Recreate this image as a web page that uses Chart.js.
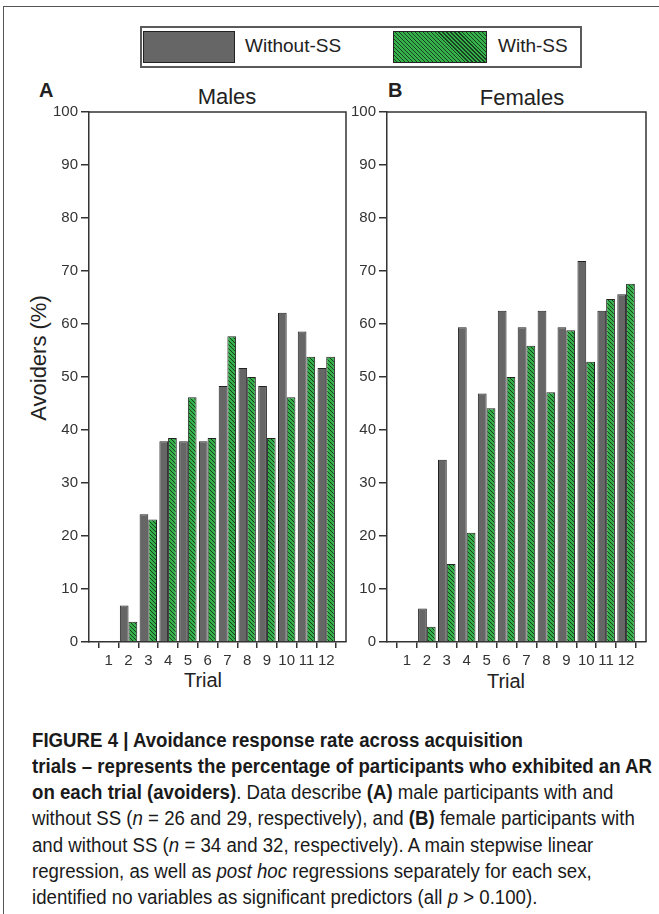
<!DOCTYPE html>
<html>
<head>
<meta charset="utf-8">
<script src="https://cdn.jsdelivr.net/npm/chart.js@4/dist/chart.umd.min.js"></script>
<style>
  html, body { margin: 0; padding: 0; background: #fff; }
  body { width: 659px; height: 914px; position: relative; overflow: hidden;
         font-family: Arial, "Liberation Sans", sans-serif; color: #222; }
  .frame { position: absolute; left: 3px; top: 6px; width: 700px; height: 1000px;
           border-left: 1.5px solid #555; border-top: 1.5px solid #555; }
  .abs { position: absolute; }
  .legend { left: 140px; top: 26px; width: 438px; height: 38px; border: 2px solid #5a5a5a; }
  .sw { position: absolute; top: 31px; height: 30px; border: 1.5px solid #222; }
  .sw.gray { left: 143px; width: 90px; background: #666; }
  .sw.green { left: 393px; width: 92px;
    background: repeating-linear-gradient(45deg, #36b04b 0 1.9px, #17401f 1.9px 2.8px); }
  .lg { position: absolute; top: 34px; font-size: 19px; line-height: 24px; }
  .letter { font-weight: bold; font-size: 20px; line-height: 20px; }
  .title { font-size: 22px; line-height: 24px; transform: translateX(-50%); white-space: nowrap; }
  .ylab { font-size: 22px; line-height: 24px; white-space: nowrap;
          transform: translate(-50%, -50%) rotate(-90deg); }
  .xlab { font-size: 20px; line-height: 22px; transform: translateX(-50%); }
  .cl { position: absolute; left: 32px; font-family: "Liberation Sans", Arial, sans-serif;
        font-size: 19.5px; line-height: 24px; color: #1a1a1a; white-space: pre;
        transform-origin: 0 0; }
  canvas { position: absolute; }
</style>
</head>
<body>
<div class="frame"></div>

<div class="abs legend"></div>
<div class="sw gray"></div>
<div class="lg" style="left:245px">Without-SS</div>
<div class="sw green"></div>
<div class="lg" style="left:498px">With-SS</div>

<div class="abs letter" style="left:39px; top:80px">A</div>
<div class="abs letter" style="left:388px; top:80px">B</div>
<div class="abs title" style="left:227px; top:85px">Males</div>
<div class="abs title" style="left:522px; top:86px">Females</div>
<div class="abs ylab" style="left:39px; top:358px">Avoiders (%)</div>
<div class="abs xlab" style="left:203px; top:669px">Trial</div>
<div class="abs xlab" style="left:506px; top:670px">Trial</div>

<canvas id="males" width="350" height="600" style="left:0px; top:100px"></canvas>
<canvas id="females" width="310" height="600" style="left:340px; top:100px"></canvas>

<div class="cl" style="top:728px"><b>FIGURE 4 | Avoidance response rate across acquisition</b></div>
<div class="cl" style="top:754px" id="widest"><b>trials – represents the percentage of participants who exhibited an AR</b></div>
<div class="cl" style="top:780px"><b>on each trial (avoiders)</b>. Data describe <b>(A)</b> male participants with and</div>
<div class="cl" style="top:806px">without SS (<i>n</i> = 26 and 29, respectively), and <b>(B)</b> female participants with</div>
<div class="cl" style="top:833px">and without SS (<i>n</i> = 34 and 32, respectively). A main stepwise linear</div>
<div class="cl" style="top:859px">regression, as well as <i>post hoc</i> regressions separately for each sex,</div>
<div class="cl" style="top:885px">identified no variables as significant predictors (all <i>p</i> &gt; 0.100).</div>

<script>
// Trial numbers on the x axis
const trials = [1, 2, 3, 4, 5, 6, 7, 8, 9, 10, 11, 12];
const yTicks = [0, 10, 20, 30, 40, 50, 60, 70, 80, 90, 100];

// Percentage of avoiders per trial, males
const malesWithout = [0, 6.9, 24.1, 37.9, 37.9, 37.9, 48.3, 51.7, 48.3, 62.1, 58.6, 51.7];
const malesWith    = [0, 3.8, 23.1, 38.5, 46.2, 38.5, 57.7, 50.0, 38.5, 46.2, 53.8, 53.8];

// Percentage of avoiders per trial, females
const femalesWithout = [0, 6.3, 34.4, 59.4, 46.9, 62.5, 59.4, 62.5, 59.4, 71.9, 62.5, 65.6];
const femalesWith    = [0, 2.9, 14.7, 20.6, 44.1, 50.0, 55.9, 47.1, 58.8, 52.9, 64.7, 67.6];

const seriesNames = ['Without-SS', 'With-SS'];

// Condensed caption: squeeze every line by the factor that makes the widest one 620px
(function () {
  const w = document.getElementById('widest').getBoundingClientRect().width;
  const k = (620 / w).toFixed(4);
  document.querySelectorAll('.cl').forEach(el => { el.style.transform = 'scaleX(' + k + ')'; });
})();

// Diagonal green hatch used for the With-SS bars
function hatchPattern() {
  const s = 4;
  const c = document.createElement('canvas');
  c.width = s; c.height = s;
  const g = c.getContext('2d');
  g.fillStyle = '#36b04b';
  g.fillRect(0, 0, s, s);
  g.strokeStyle = '#17401f';
  g.lineWidth = 1.0;
  for (let k = -1; k <= 1; k++) {
    g.beginPath();
    g.moveTo(k * s, 0);
    g.lineTo(k * s + s, s);
    g.stroke();
  }
  return g.createPattern(c, 'repeat');
}

// Top and right edges of the plot box
const boxFrame = {
  id: 'boxFrame',
  afterDraw(chart) {
    const { ctx, chartArea: a } = chart;
    ctx.save();
    ctx.strokeStyle = '#333';
    ctx.lineWidth = 1.5;
    ctx.beginPath();
    ctx.moveTo(a.left, a.top);
    ctx.lineTo(a.right, a.top);
    ctx.lineTo(a.right, a.bottom);
    ctx.stroke();
    ctx.restore();
  }
};

function makeChart(id, without, withSS, yWidth) {
  const toPoints = arr => trials.map((t, i) => ({ x: t, y: arr[i] }));
  return new Chart(document.getElementById(id), {
    type: 'bar',
    data: {
      datasets: [
        { label: seriesNames[0], data: toPoints(without), backgroundColor: '#666666',
          borderColor: '#222', borderWidth: 1 },
        { label: seriesNames[1], data: toPoints(withSS), backgroundColor: hatchPattern(),
          borderColor: '#222', borderWidth: 1 }
      ]
    },
    options: {
      responsive: false,
      devicePixelRatio: 1,
      animation: false,
      categoryPercentage: 0.88,
      barPercentage: 1.0,
      layout: { padding: { left: 0, right: 4, top: 11, bottom: 0 } },
      plugins: { legend: { display: false }, tooltip: { enabled: false }, title: { display: false } },
      scales: {
        x: {
          type: 'linear', min: 0, max: 13, offset: false,
          afterBuildTicks: s => { s.ticks = trials.map(v => ({ value: v })); },
          ticks: { color: '#333', font: { size: 15, family: 'Arial' }, padding: 4,
                   autoSkip: false, maxRotation: 0 },
          grid: { drawOnChartArea: false, tickLength: 6, color: '#333', lineWidth: 1.5 },
          border: { color: '#333', width: 1.5 },
          afterFit: s => { s.height = 58; }
        },
        y: {
          min: 0, max: 100,
          afterBuildTicks: s => { s.ticks = yTicks.map(v => ({ value: v })); },
          ticks: { color: '#333', font: { size: 15, family: 'Arial' }, padding: 3 },
          grid: { drawOnChartArea: false, tickLength: 8, color: '#333', lineWidth: 1.5 },
          border: { color: '#333', width: 1.5 },
          afterFit: s => { s.width = yWidth; }
        }
      }
    },
    plugins: [boxFrame]
  });
}

makeChart('males', malesWithout, malesWith, 89);
makeChart('females', femalesWithout, femalesWith, 47);
</script>
</body>
</html>
